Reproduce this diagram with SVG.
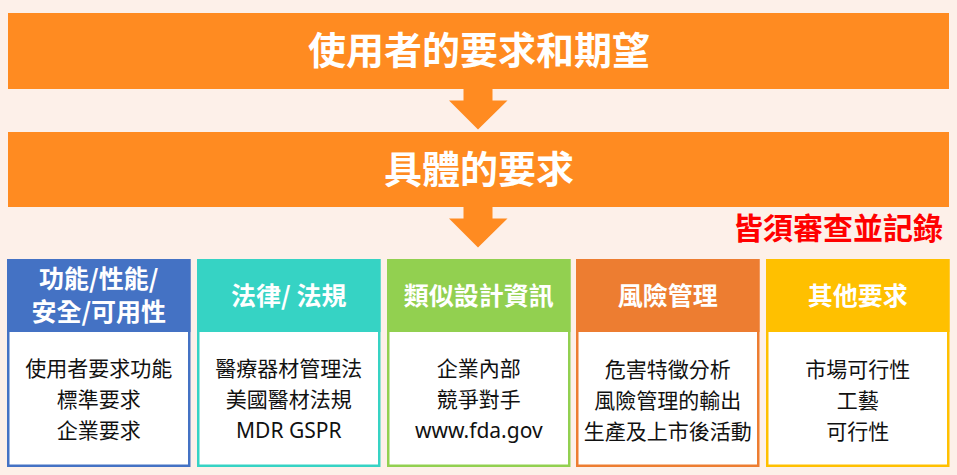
<svg xmlns="http://www.w3.org/2000/svg" width="957" height="475" viewBox="0 0 957 475">
<style>
.bar{fill:#FF8B21}
.arrow{fill:#FF8B21}
.bt{font-family:"Noto Sans CJK TC","Noto Sans CJK SC",sans-serif;font-weight:700;fill:#fff;text-anchor:middle}
.hd{font-family:"Noto Sans CJK TC","Noto Sans CJK SC",sans-serif;font-weight:700;fill:#fff;text-anchor:middle;font-size:25px}
.bd{font-family:"Noto Sans","Noto Sans CJK TC",sans-serif;font-weight:400;fill:#111;text-anchor:middle;font-size:21px}
.note{font-family:"Noto Sans CJK TC","Noto Sans CJK SC",sans-serif;font-weight:700;fill:#F00;text-anchor:end;font-size:30px}
.box{fill:#fff;stroke-width:2.5}
</style>
<rect width="957" height="475" fill="#FDF0E9"/>
<g id="connectors">
<path class="arrow" d="M463.5,89 H492.5 V100.5 H507.5 L478,129.5 L449,100.5 H463.5 Z"/>
<path class="arrow" d="M463.5,207 H492.5 V218.5 H507.5 L478,247.5 L449,218.5 H463.5 Z"/>
</g>
<g id="node-user">
<rect class="bar" x="8" y="13" width="941" height="76"/>
<text class="bt" x="479" y="64" font-size="38">使用者的要求和期望</text>
</g>
<g id="node-specific">
<rect class="bar" x="8" y="132" width="941" height="75"/>
<text class="bt" x="479" y="183" font-size="38">具體的要求</text>
</g>
<g id="note">
<text class="note" x="943" y="239">皆須審查並記錄</text>
</g>
<g id="box-function">
<rect class="box" x="8.25" y="260.25" width="181" height="205.5" stroke="#4472C4"/>
<rect x="7" y="259" width="183.5" height="73" fill="#4472C4"/>
<text class="hd" x="98.75" y="288" font-size="22.5">功能/性能/</text>
<text class="hd" x="98.75" y="320.8" font-size="22.5">安全/可用性</text>
<text class="bd" x="98.75" y="376">使用者要求功能</text>
<text class="bd" x="98.75" y="407">標準要求</text>
<text class="bd" x="98.75" y="438">企業要求</text>
</g>
<g id="box-law">
<rect class="box" x="198.25" y="260.25" width="181" height="205.5" stroke="#36D3C4"/>
<rect x="197" y="259" width="183.5" height="73" fill="#36D3C4"/>
<text class="hd" x="288.75" y="305">法律/ 法規</text>
<text class="bd" x="288.75" y="376">醫療器材管理法</text>
<text class="bd" x="288.75" y="407">美國醫材法規</text>
<text class="bd" x="288.75" y="438">MDR GSPR</text>
</g>
<g id="box-similar">
<rect class="box" x="388.25" y="260.25" width="181" height="205.5" stroke="#92D050"/>
<rect x="387" y="259" width="183.5" height="73" fill="#92D050"/>
<text class="hd" x="478.75" y="305">類似設計資訊</text>
<text class="bd" x="478.75" y="376">企業內部</text>
<text class="bd" x="478.75" y="407">競爭對手</text>
<text class="bd" x="478.75" y="438">www.fda.gov</text>
</g>
<g id="box-risk">
<rect class="box" x="577.25" y="260.25" width="181" height="205.5" stroke="#ED7D31"/>
<rect x="576" y="259" width="183.5" height="73" fill="#ED7D31"/>
<text class="hd" x="667.75" y="305">風險管理</text>
<text class="bd" x="667.75" y="377">危害特徵分析</text>
<text class="bd" x="667.75" y="408">風險管理的輸出</text>
<text class="bd" x="667.75" y="439">生產及上市後活動</text>
</g>
<g id="box-other">
<rect class="box" x="767.25" y="260.25" width="181" height="205.5" stroke="#FFC000"/>
<rect x="766" y="259" width="183.5" height="73" fill="#FFC000"/>
<text class="hd" x="857.75" y="305">其他要求</text>
<text class="bd" x="857.75" y="377">市場可行性</text>
<text class="bd" x="857.75" y="408">工藝</text>
<text class="bd" x="857.75" y="439">可行性</text>
</g>
</svg>
